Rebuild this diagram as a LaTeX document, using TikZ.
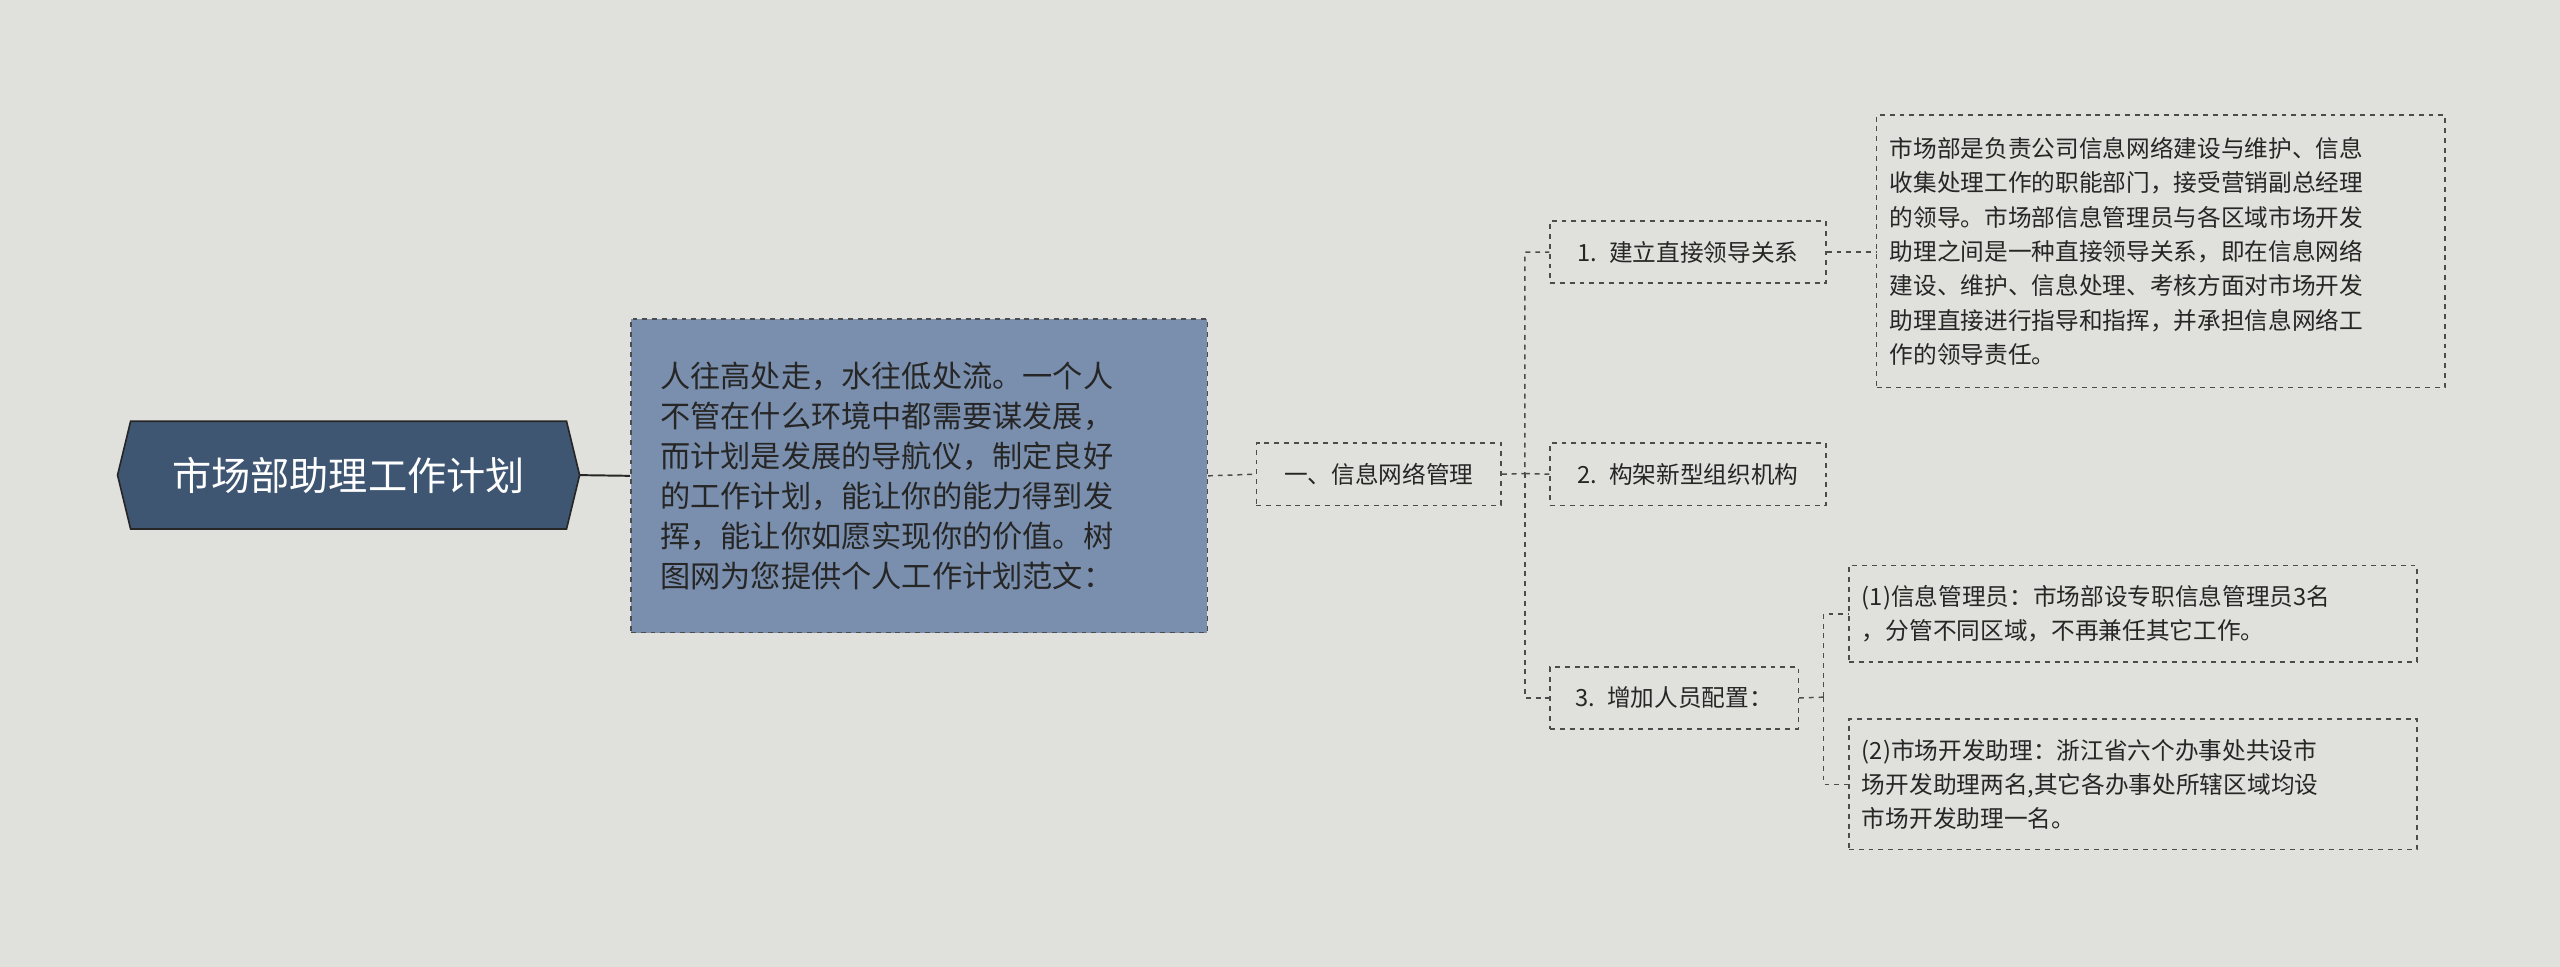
\documentclass[tikz,border=0pt]{standalone}
\usepackage{fontspec}
\setmainfont{Noto Sans CJK SC}
\begin{document}
\begin{tikzpicture}[x=1pt,y=-1pt,
  box/.style={draw=black!70,dashed,line width=0.9pt,inner sep=0pt,align=left,anchor=north west,text=black!85},
  link/.style={draw=black!70,dashed,line width=0.9pt}]
\fill[fill={rgb,255:red,224;green,225;blue,220}] (0,0) rectangle (1568,592);
\useasboundingbox (0,0) rectangle (1568,592);
% root
\fill[fill={rgb,255:red,63;green,86;blue,115},draw=black!85,line width=1pt] (72,291)--(80,258)--(347,258)--(355,291)--(347,324)--(80,324)--cycle;
\node[text=white,font=\fontsize{24}{28}\selectfont] (root) at (213.5,291) {市场部助理工作计划};
% big box
\node[box,fill={rgb,255:red,122;green,143;blue,173},minimum width=353pt,minimum height=192pt,text width=341pt,font=\fontsize{18.5}{24.5}\selectfont] (intro) at (386,195) {\hspace*{12pt}\begin{minipage}{335pt}人往高处走，水往低处流。一个人\\不管在什么环境中都需要谋发展，\\而计划是发展的导航仪，制定良好\\的工作计划，能让你的能力得到发\\挥，能让你如愿实现你的价值。树\\图网为您提供个人工作计划范文：\end{minipage}};
\tikzset{small/.style={font=\fontsize{14.5}{21}\selectfont}}
\node[box,small,minimum width=150pt,minimum height=38pt,align=center,text width=150pt] (l1) at (769,271) {一、信息网络管理};
\node[box,small,minimum width=169pt,minimum height=38pt,align=center,text width=169pt] (c1) at (949,135) {1. 建立直接领导关系};
\node[box,small,minimum width=169pt,minimum height=38pt,align=center,text width=169pt] (c2) at (949,271) {2. 构架新型组织机构};
\node[box,small,minimum width=152pt,minimum height=38pt,align=center,text width=152pt] (c3) at (949,408) {3. 增加人员配置：};
\node[box,small,minimum width=348pt,minimum height=167pt,text width=348pt] (d1) at (1149,70) {\hspace*{8pt}\begin{minipage}{336pt}市场部是负责公司信息网络建设与维护、信息\\收集处理工作的职能部门，接受营销副总经理\\的领导。市场部信息管理员与各区域市场开发\\助理之间是一种直接领导关系，即在信息网络\\建设、维护、信息处理、考核方面对市场开发\\助理直接进行指导和指挥，并承担信息网络工\\作的领导责任。\end{minipage}};
\node[box,small,minimum width=348pt,minimum height=59pt,text width=348pt] (d2) at (1132,346) {\hspace*{8pt}\begin{minipage}{336pt}(1)信息管理员：市场部设专职信息管理员3名\\，分管不同区域，不再兼任其它工作。\end{minipage}};
\node[box,small,minimum width=348pt,minimum height=80pt,text width=348pt] (d3) at (1132,440) {\hspace*{8pt}\begin{minipage}{336pt}(2)市场开发助理：浙江省六个办事处共设市\\场开发助理两名,其它各办事处所辖区域均设\\市场开发助理一名。\end{minipage}};
% connectors
\draw[draw=black!85,line width=1.2pt] (355,291) -- (intro.west);
\draw[link] (intro.east) -- (l1.west);
\draw[link] (l1.east) -- (934,290) |- (c1.west);
\draw[link] (934,290) -- (c2.west);
\draw[link] (934,290) |- (c3.west);
\draw[link] (c1.east) -- (d1.west |- c1.east);
\draw[link] (c3.east) -- (1117,427);
\draw[link] (1117,427) |- (d2.west);
\draw[link] (1117,427) |- (d3.west);
\end{tikzpicture}
\end{document}
